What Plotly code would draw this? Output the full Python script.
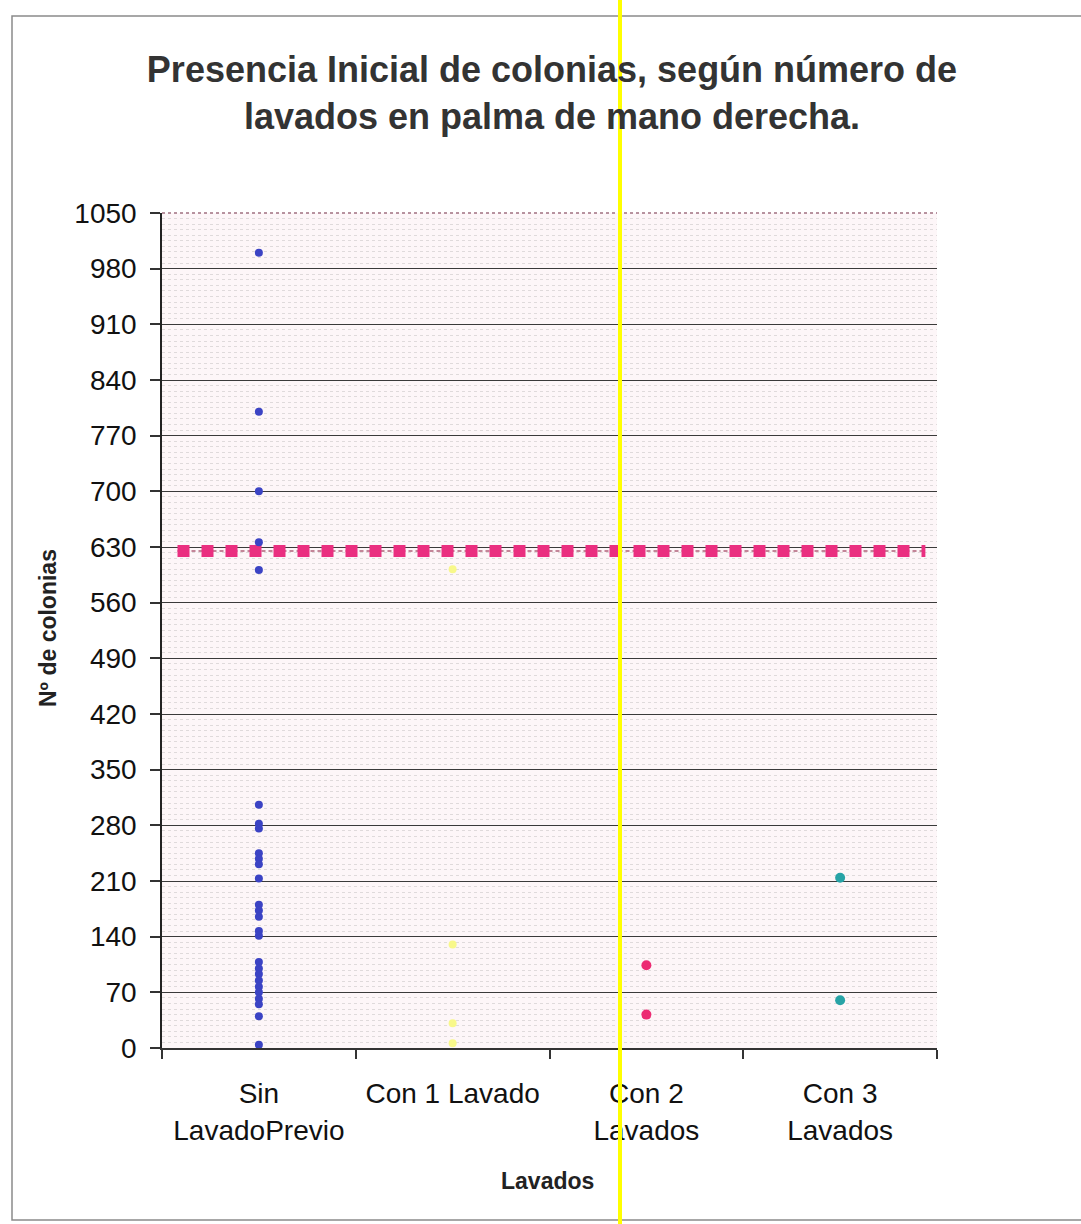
import plotly.graph_objects as go

# Categories on the x axis (numeric positions 1..4)
categorias = ["Sin<br>LavadoPrevio", "Con 1 Lavado", "Con 2<br>Lavados", "Con 3<br>Lavados"]
posiciones = [1, 2, 3, 4]

# Colony counts per group
sin_lavado = [1000, 800, 700, 636, 601, 306, 282, 276, 245, 238, 231, 213,
              180, 173, 165, 147, 141, 108, 100, 93, 85, 77, 70, 62, 55, 40, 4]
con_1_lavado = [602, 130, 31, 6]
con_2_lavados = [104, 42]
con_3_lavados = [214, 60]

# Reference level drawn across the chart
ref_x = [0.58, 4.44]
ref_y = [625, 625]

y_ticks = [0, 70, 140, 210, 280, 350, 420, 490, 560, 630, 700, 770, 840, 910, 980, 1050]
x_bounds = [0.5, 1.5, 2.5, 3.5, 4.5]

FONT = "Liberation Sans, Arial, sans-serif"

fig = go.Figure()

# thin dashed connector of the reference level
fig.add_trace(go.Scatter(
    x=ref_x, y=ref_y, mode="lines",
    line=dict(color="#b06078", width=1.5, dash="4px,3px"),
    hoverinfo="skip", showlegend=False))
# square markers of the reference level (drawn as a thick dash pattern)
fig.add_trace(go.Scatter(
    x=ref_x, y=ref_y, mode="lines",
    line=dict(color="#ea2f80", width=12, dash="12px,12px"),
    hoverinfo="skip", showlegend=False))

groups = [
    (posiciones[0], sin_lavado, "#3b43c4", 8),
    (posiciones[1], con_1_lavado, "#f8f88a", 8),
    (posiciones[2], con_2_lavados, "#ec2a72", 10),
    (posiciones[3], con_3_lavados, "#27a3a6", 10),
]
for pos, vals, color, size in groups:
    fig.add_trace(go.Scatter(
        x=[pos] * len(vals), y=vals, mode="markers",
        marker=dict(color=color, size=size, line=dict(width=0)),
        showlegend=False))

L, R, T, B = 162, 937, 213, 1048
W, H = 1081, 1224
pw, ph = R - L, B - T

def px_x(px):
    return (px - L) / pw

def px_y(py):
    return (B - py) / ph

fig.update_layout(
    width=W, height=H,
    margin=dict(l=L, r=W - R, t=T, b=H - B),
    paper_bgcolor="white",
    plot_bgcolor="#fdf6f8",
    font=dict(family=FONT, color="#111"),
    title=dict(
        text="<b>Presencia Inicial de colonias, según número de<br>lavados en palma de mano derecha.</b>",
        x=552 / W, xanchor="center",
        y=1 - 82 / H, yanchor="top", yref="container",
        font=dict(family=FONT, size=36, color="#333")),
    xaxis=dict(
        range=[0.5, 4.5], tickvals=posiciones, ticktext=categorias,
        ticks="", showgrid=False, zeroline=False,
        showline=True, linecolor="#333", linewidth=1.5,
        tickfont=dict(size=28, color="#111"),
        ticklabelstandoff=20,
        minor=dict(tickvals=x_bounds, ticks="outside", ticklen=9,
                   tickcolor="#333", tickwidth=1.5, showgrid=False)),
    yaxis=dict(
        range=[0, 1050], tickvals=y_ticks,
        ticks="outside", ticklen=10, tickcolor="#333", tickwidth=1.5,
        showline=True, linecolor="#222", linewidth=1.5,
        showgrid=True, gridcolor="#3a3a3a", gridwidth=1.1,
        zeroline=False,
        tickfont=dict(size=28, color="#111"),
        ticklabelstandoff=8,
        minor=dict(dtick=7, tick0=0, showgrid=True,
                   gridcolor="rgba(120,120,120,0.22)", griddash="dot",
                   gridwidth=1, ticks="")),
    annotations=[
        dict(text="<b>Nº de colonias</b>", textangle=-90,
             x=px_x(48), y=px_y(628), xref="paper", yref="paper",
             xanchor="center", yanchor="middle", showarrow=False,
             font=dict(family=FONT, size=23, color="#222")),
        dict(text="<b>Lavados</b>",
             x=px_x(547), y=px_y(1181), xref="paper", yref="paper",
             xanchor="center", yanchor="middle", showarrow=False,
             font=dict(family=FONT, size=23, color="#222")),
    ],
    shapes=[
        # dotted top edge of the plot area
        dict(type="line", xref="paper", yref="paper", x0=0, x1=1, y0=1, y1=1,
             line=dict(color="#a07080", width=1.5, dash="dot")),
        # outer frame of the chart
        dict(type="rect", xref="paper", yref="paper",
             x0=px_x(12), x1=px_x(1095), y0=px_y(1220), y1=px_y(16),
             line=dict(color="#8a8a8a", width=1.5), layer="below"),
        # yellow vertical stripe
        dict(type="line", xref="paper", yref="paper",
             x0=px_x(620), x1=px_x(620), y0=px_y(1230), y1=px_y(-10),
             line=dict(color="#ffff00", width=4), layer="above"),
    ],
)

fig.write_html("out.html")
